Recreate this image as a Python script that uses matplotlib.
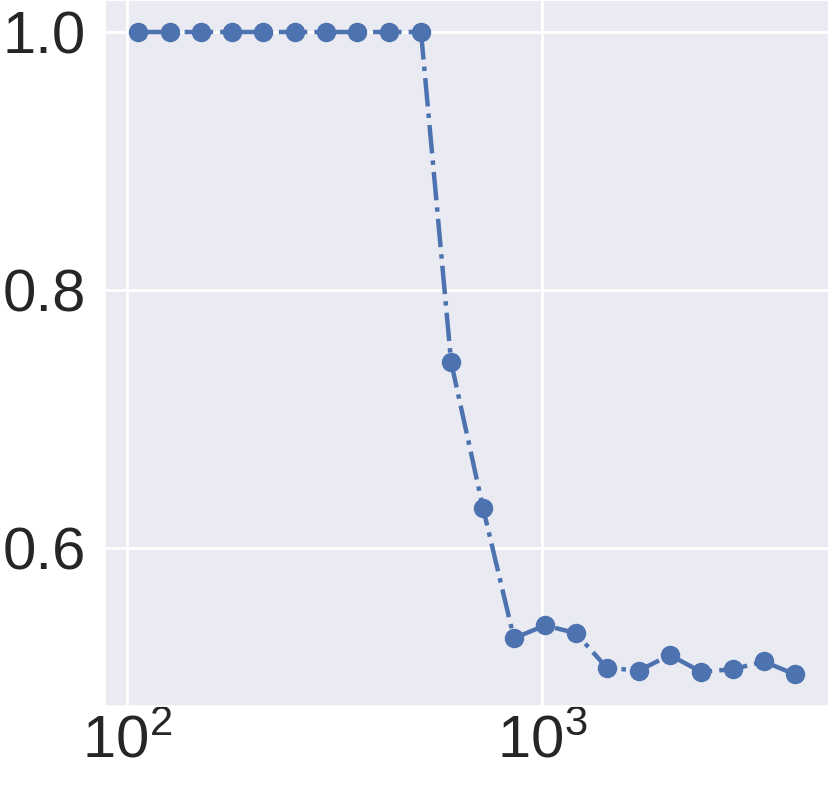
import numpy as np
import matplotlib
matplotlib.use('Agg')
import matplotlib.pyplot as plt
import seaborn as sns

# values
sizes = [106, 127, 151, 179, 213, 254, 302, 358, 428, 511, 604,
         721, 856, 1017, 1207, 1434, 1713, 2034, 2416, 2885, 3426, 4070]
scores = [1.0, 1.0, 1.0, 1.0, 1.0, 1.0, 1.0, 1.0, 1.0, 1.0, 0.744,
          0.631, 0.530, 0.540, 0.534, 0.507, 0.505, 0.517, 0.504, 0.506, 0.512, 0.502]
y_ticks = [0.6, 0.8, 1.0]

sns.set_theme(style='darkgrid')
plt.rcParams['font.family'] = ['Liberation Sans', 'DejaVu Sans']

fig = plt.figure(figsize=(8.29, 8.02), dpi=100)
ax = fig.add_axes([105 / 829, 96 / 802, 724 / 829, 706 / 802])

ax.plot(sizes, scores, linestyle='-.', marker='o', color='#4C72B0',
        linewidth=3.2, markersize=13)

ax.set_xscale('log')
ax.set_xlim(88.5, 4916)
ax.set_ylim(0.4775, 1.0248)
ax.set_yticks(y_ticks)
ax.set_yticklabels(['0.6', '0.8', '1.0'])
ax.tick_params(axis='both', labelsize=43, length=0)
ax.tick_params(axis='y', pad=14)
ax.tick_params(axis='x', pad=6)
ax.grid(True, which='major', color='white', linewidth=2)
ax.grid(False, which='minor')

fig.savefig('out.png', dpi=100)
